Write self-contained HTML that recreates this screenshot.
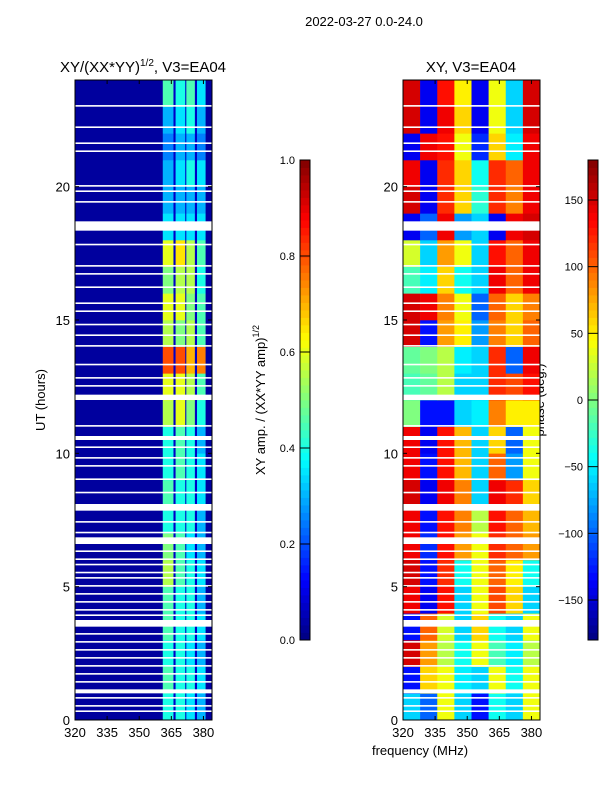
<!DOCTYPE html>
<html><head><meta charset="utf-8"><style>
html,body{margin:0;padding:0;background:#fff;}
svg{display:block;font-family:"Liberation Sans",sans-serif;}
</style></head><body>
<svg id="fig" width="600" height="800" viewBox="0 0 600 800" xmlns="http://www.w3.org/2000/svg">
<rect width="600" height="800" fill="#fff"/>
<text x="364" y="26" font-size="13" text-anchor="middle">2022-03-27 0.0-24.0</text>
<text x="143" y="72" font-size="15" text-anchor="middle">XY/(XX*YY)<tspan font-size="10" dy="-6">1/2</tspan><tspan dy="6">, V3=EA04</tspan></text>
<text x="471" y="72" font-size="15" text-anchor="middle">XY, V3=EA04</text>
<text transform="translate(45,400) rotate(-90)" font-size="13" text-anchor="middle">UT (hours)</text>
<text transform="translate(265,400) rotate(-90)" font-size="13" text-anchor="middle">XY amp. / (XX*YY amp)<tspan font-size="9" dy="-6">1/2</tspan></text>
<text transform="translate(544,400) rotate(-90)" font-size="13" text-anchor="middle">phase (deg.)</text>
<text x="420" y="755" font-size="13" text-anchor="middle">frequency (MHz)</text>
<g id="g"></g>
</svg>
<script>
// ---- data ----
const hours = [0,1,2,3,4,5,6,7,8,9,10,11,12,13,14,15,16,17,18,19,20,21,22,23];
const ampBandEdges = [320,361,366,367,371.5,372,376,377,381,384];
const ampBg = 0.03;
const ampGapVal = 0.07;
// per-hour amplitude of the four bright bands (A,B,C,D)
const ampA = [0.40,0.45,0.40,0.45,0.45,0.55,0.50,0.40,0.45,0.40,0.40,0.55,0.60,0.80,0.55,0.60,0.50,0.60,0.35,0.30,0.30,0.25,0.30,0.45];
const ampB = [0.40,0.40,0.40,0.40,0.40,0.45,0.45,0.40,0.40,0.45,0.45,0.60,0.60,0.80,0.50,0.60,0.55,0.65,0.35,0.30,0.35,0.30,0.35,0.40];
const ampC = [0.35,0.40,0.35,0.40,0.40,0.40,0.35,0.40,0.40,0.40,0.40,0.50,0.55,0.70,0.55,0.50,0.55,0.55,0.35,0.30,0.40,0.30,0.40,0.45];
const ampD = [0.30,0.35,0.30,0.35,0.30,0.35,0.30,0.30,0.35,0.35,0.30,0.40,0.45,0.75,0.45,0.45,0.40,0.45,0.35,0.30,0.35,0.25,0.30,0.35];
const phaseFreqEdges = [320,328,336,344,352,360,368,376,384];
const phaseRows = [
 [-60,-100,40,-60,-130,-40,-60,40],
 [-130,60,40,-50,-60,40,-40,40],
 [150,80,20,-40,40,-20,-50,20],
 [-130,100,30,-60,60,-40,-60,40],
 [140,-140,130,-60,40,110,60,-60],
 [150,-130,120,-40,40,100,50,-40],
 [140,-120,130,80,40,120,100,80],
 [140,-130,130,90,20,130,100,70],
 [150,-140,140,90,-60,140,120,60],
 [140,-130,130,70,-60,100,-80,40],
 [140,-140,130,70,-60,60,-100,40],
 [0,-130,-130,-60,-50,90,50,50],
 [-20,-10,20,-60,-60,120,110,130],
 [-10,0,20,-50,-60,120,-100,140],
 [150,-130,80,50,-80,90,60,100],
 [150,140,90,40,-100,100,60,90],
 [-20,-50,60,-40,-60,140,100,140],
 [30,-60,80,40,-60,130,100,140],
 [-140,-100,140,-80,-60,-140,140,150],
 [150,-140,120,60,-30,120,90,140],
 [140,-140,120,60,-40,120,100,140],
 [-140,140,130,40,-120,60,-50,140],
 [150,-140,140,60,-140,40,-60,150],
 [150,-140,130,50,-140,40,-60,150]
];
const gapStarts = [18.35,12.0,7.85,6.6,3.5,10.5,1.0,23.0,22.2,21.6,21.3,20.0,19.8,19.4,17.8,17.0,16.7,16.2,15.6,15.3,14.8,14.4,14.0,13.3,12.8,12.5,11.0,10.2,9.8,9.5,9.0,8.5,7.4,7.0,6.3,6.0,5.8,5.5,5.3,5.0,4.7,4.4,4.1,3.9,3.2,2.9,2.6,2.3,2.0,1.7,1.4,0.8,0.5,0.3];
const gapLengths = [0.35,0.2,0.25,0.25,0.25,0.15,0.15,0.06,0.06,0.06,0.06,0.06,0.06,0.06,0.06,0.06,0.06,0.06,0.06,0.06,0.06,0.06,0.06,0.06,0.06,0.06,0.06,0.06,0.06,0.06,0.06,0.06,0.06,0.06,0.06,0.06,0.06,0.06,0.06,0.06,0.06,0.06,0.06,0.06,0.06,0.06,0.06,0.06,0.06,0.06,0.06,0.06,0.06,0.06];
const xTicks = [320,335,350,365,380];
const yTicks = [0,5,10,15,20];
const ampCbTicks = [0.0,0.2,0.4,0.6,0.8,1.0];
const phaseCbTicks = [-150,-100,-50,0,50,100,150];

// ---- rendering ----
const NS="http://www.w3.org/2000/svg";
const G=document.getElementById('g');
function el(t,a,p){const e=document.createElementNS(NS,t);for(const k in a)e.setAttribute(k,a[k]);(p||G).appendChild(e);return e;}
function jet(v){v=Math.max(0,Math.min(1,v));
 const f=x=>Math.max(0,Math.min(1,x));
 const r=f(Math.min(4*v-1.5,-4*v+4.5)),g=f(Math.min(4*v-0.5,-4*v+3.5)),b=f(Math.min(4*v+0.5,-4*v+2.5));
 return `rgb(${Math.round(r*255)},${Math.round(g*255)},${Math.round(b*255)})`;}
const Y0=720,Y1=80;
const yScale=h=>Y0-(Y0-Y1)*h/24;
function xScaleFor(x0,x1){return f=>x0+(x1-x0)*(f-320)/64;}
const panels=[{x0:75,x1:212,name:'amp'},{x0:403,x1:540,name:'phase'}];
const xa=xScaleFor(75,212), xp=xScaleFor(403,540);
const ampBands=[null,ampA,null,ampB,null,ampC,null,ampD,null];
const bandKind=['bg','A','gap','B','gap','C','gap','D','bg'];
hours.forEach((h,r)=>{
 for(let c=0;c<ampBandEdges.length-1;c++){
  let v=bandKind[c]==='bg'?ampBg:bandKind[c]==='gap'?ampGapVal:ampBands[c][r];
  const cell=el('rect',{x:xa(ampBandEdges[c]),y:yScale(h+1),width:xa(ampBandEdges[c+1])-xa(ampBandEdges[c])+0.3,height:yScale(h)-yScale(h+1)+0.3,fill:jet(v)});
  
  
 }
 for(let c=0;c<phaseFreqEdges.length-1;c++){
  const v=(phaseRows[r][c]+180)/360;
  const cell=el('rect',{x:xp(phaseFreqEdges[c]),y:yScale(h+1),width:xp(phaseFreqEdges[c+1])-xp(phaseFreqEdges[c])+0.3,height:yScale(h)-yScale(h+1)+0.3,fill:jet(v)});
  
  
 }
});
gapStarts.forEach((s,i)=>{
 panels.forEach(p=>{
  const gp=el('rect',{x:p.x0,y:yScale(s+gapLengths[i]),width:p.x1-p.x0,height:Math.max(1.5,yScale(s)-yScale(s+gapLengths[i])),fill:'#fff'});
  
  
 });
});
panels.forEach(p=>{
 const fr=el('rect',{x:p.x0,y:Y1,width:p.x1-p.x0,height:Y0-Y1,fill:'none',stroke:'#000','stroke-width':1});
 
 
 const xs=xScaleFor(p.x0,p.x1);
 xTicks.forEach(t=>{
  el('line',{x1:xs(t),x2:xs(t),y1:Y0,y2:Y0-4,stroke:'#000'});
  el('line',{x1:xs(t),x2:xs(t),y1:Y1,y2:Y1+4,stroke:'#000'});
  const tl=el('text',{x:xs(t),y:737,'font-size':13,'text-anchor':'middle'});tl.textContent=t;
  
  
 });
 yTicks.forEach(t=>{
  el('line',{x1:p.x0,x2:p.x0+4,y1:yScale(t),y2:yScale(t),stroke:'#000'});
  el('line',{x1:p.x1,x2:p.x1-4,y1:yScale(t),y2:yScale(t),stroke:'#000'});
  const tl=el('text',{x:p.x0-5,y:yScale(t)+5,'font-size':13,'text-anchor':'end'});tl.textContent=t;
  
  
 });
});
// colorbars
function colorbar(x,name,ticks,lo,hi,fmt){
 const cg=el('g',{});
 
 
 const n=64;
 for(let i=0;i<n;i++){
  el('rect',{x:x,y:640-(i+1)*480/n,width:10,height:480/n+0.4,fill:jet((i+0.5)/n)},cg);
 }
 el('rect',{x:x,y:160,width:10,height:480,fill:'none',stroke:'#000','stroke-width':1},cg);
 ticks.forEach(t=>{
  const y=640-480*(t-lo)/(hi-lo);
  el('line',{x1:x,x2:x+10,y1:y,y2:y,stroke:'#000'},cg);
  const tl=el('text',{x:x-5,y:y+4,'font-size':11,'text-anchor':'end'},cg);tl.textContent=fmt(t);
  
  
 });
}
colorbar(300,'amp-colorbar',ampCbTicks,0,1,t=>t.toFixed(1));
colorbar(588,'phase-colorbar',phaseCbTicks,-180,180,t=>t<0?'\u2212'+(-t):String(t));
</script>
</body></html>
